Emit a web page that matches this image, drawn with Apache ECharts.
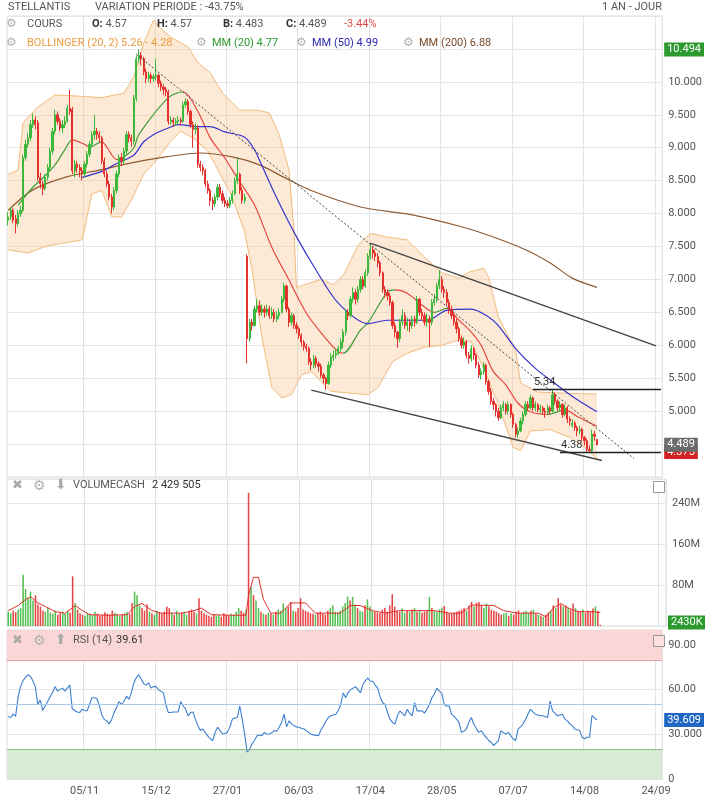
<!DOCTYPE html>
<html>
<head>
<meta charset="utf-8">
<script src="https://cdn.jsdelivr.net/npm/echarts@6/dist/echarts.min.js"></script>
<style>
html, body { margin: 0; padding: 0; background: #fff; }
#chart { width: 705px; height: 800px; }
</style>
</head>
<body>
<div id="chart"></div>
<script>
// x axis: one slot per trading day, ticks every 29 sessions
const nCats = 266;
const firstTick = 31;
const tickStep = 29;
const tickLabels = ['05/11', '15/12', '27/01', '06/03', '17/04', '28/05', '07/07', '14/08', '24/09'];

// daily candles [open, close, low, high]
const ohlc = [
  [7.90,7.95,7.82,8.02],[7.95,8.05,7.90,8.10],[8.05,7.90,7.85,8.08],[7.92,7.85,7.70,7.98],[7.85,8.00,7.80,8.05],
  [8.00,8.05,7.95,8.12],[8.05,8.85,8.02,8.90],[8.85,9.05,8.80,9.12],[9.05,9.15,9.00,9.22],[9.15,9.35,9.10,9.42],
  [9.35,9.42,9.30,9.52],[9.42,9.35,9.28,9.48],[9.38,8.55,8.50,9.42],[8.55,8.45,8.38,8.62],[8.45,8.38,8.28,8.50],
  [8.38,8.55,8.35,8.60],[8.55,8.70,8.50,8.75],[8.70,8.95,8.65,9.00],[8.95,9.25,8.90,9.30],[9.25,9.50,9.20,9.58],
  [9.50,9.40,9.35,9.55],[9.40,9.30,9.25,9.45],[9.30,9.35,9.22,9.42],[9.35,9.40,9.30,9.48],[9.40,9.60,9.38,9.65],
  [9.60,9.55,9.50,9.88],[9.58,8.65,8.60,9.62],[8.65,8.75,8.55,8.82],[8.75,8.70,8.62,8.80],[8.70,8.65,8.55,8.75],
  [8.65,8.60,8.50,8.70],[8.60,8.75,8.55,8.80],[8.75,8.90,8.70,8.95],[8.90,9.05,8.85,9.10],[9.05,9.20,9.00,9.25],
  [9.20,9.25,9.12,9.50],[9.25,9.20,9.12,9.30],[9.20,9.15,9.08,9.25],[9.15,8.80,8.75,9.18],[8.80,8.60,8.55,8.85],
  [8.60,8.45,8.40,8.65],[8.45,8.25,8.20,8.50],[8.25,8.10,8.00,8.30],[8.10,8.35,8.05,8.40],[8.35,8.60,8.30,8.65],
  [8.60,8.85,8.55,8.90],[8.85,8.80,8.72,8.92],[8.80,8.95,8.75,9.00],[8.95,9.20,8.90,9.25],[9.20,9.15,9.08,9.25],
  [9.15,9.10,9.02,9.20],[9.10,9.75,9.05,9.80],[9.75,10.35,9.70,10.40],[10.35,10.40,10.28,10.494],[10.40,10.35,10.25,10.45],
  [10.35,10.15,10.10,10.38],[10.15,10.05,9.98,10.20],[10.05,10.10,10.00,10.15],[10.10,10.05,9.98,10.14],[10.05,10.08,10.00,10.12],
  [10.08,10.10,10.02,10.35],[10.10,9.98,9.92,10.12],[9.98,9.92,9.86,10.02],[9.92,9.88,9.80,9.96],[9.88,9.85,9.78,9.92],
  [9.85,9.40,9.35,9.88],[9.40,9.42,9.35,9.48],[9.42,9.38,9.32,9.46],[9.38,9.40,9.33,9.45],[9.40,9.42,9.35,9.48],
  [9.42,9.40,9.34,9.46],[9.40,9.65,9.38,9.70],[9.65,9.70,9.60,9.75],[9.70,9.55,9.50,9.74],[9.55,9.35,9.30,9.58],
  [9.35,9.28,9.00,9.40],[9.28,9.30,9.20,9.38],[9.30,8.75,8.70,9.34],[8.75,8.70,8.64,8.80],[8.70,8.65,8.58,8.75],
  [8.65,8.45,8.40,8.68],[8.45,8.35,8.30,8.50],[8.35,8.20,8.12,8.38],[8.20,8.15,8.05,8.25],[8.15,8.25,8.10,8.30],
  [8.25,8.40,8.20,8.45],[8.40,8.30,8.25,8.45],[8.30,8.20,8.15,8.35],[8.20,8.15,8.10,8.25],[8.15,8.12,8.08,8.20],
  [8.12,8.20,8.08,8.25],[8.20,8.30,8.15,8.35],[8.30,8.50,8.28,8.55],[8.50,8.60,8.45,8.85],[8.60,8.35,8.30,8.62],
  [8.35,8.20,8.15,8.40],[8.20,8.25,8.15,8.30],[7.35,6.10,5.73,7.38],[6.10,6.35,6.05,6.40],[6.35,6.30,6.22,6.40],
  [6.30,6.55,6.28,6.60],[6.55,6.60,6.50,6.70],[6.60,6.50,6.45,6.68],[6.50,6.55,6.45,6.62],[6.55,6.50,6.42,6.60],
  [6.50,6.55,6.45,6.62],[6.55,6.45,6.40,6.60],[6.45,6.50,6.40,6.58],[6.50,6.40,6.35,6.55],[6.40,6.45,6.35,6.52],
  [6.45,6.50,6.40,6.56],[6.50,6.70,6.48,6.75],[6.70,6.90,6.65,6.95],[6.90,6.55,6.50,6.92],[6.55,6.35,6.28,6.58],
  [6.35,6.45,6.30,6.50],[6.45,6.30,6.25,6.48],[6.30,6.25,6.18,6.35],[6.25,6.15,6.10,6.28],[6.15,6.05,5.98,6.18],
  [6.05,5.98,5.92,6.08],[5.98,5.95,5.90,6.02],[5.95,5.75,5.70,5.98],[5.75,5.70,5.62,5.80],[5.70,5.80,5.65,5.85],
  [5.80,5.72,5.66,5.84],[5.72,5.68,5.60,5.76],[5.68,5.55,5.50,5.72],[5.55,5.50,5.42,5.58],[5.50,5.42,5.32,5.52],
  [5.42,5.70,5.40,5.75],[5.70,5.82,5.65,5.88],[5.82,5.85,5.76,5.92],[5.85,5.88,5.80,5.95],[5.88,5.95,5.85,6.00],
  [5.95,6.05,5.90,6.10],[6.05,6.20,5.95,6.25],[6.20,6.50,6.15,6.55],[6.50,6.45,6.38,6.55],[6.45,6.70,6.42,6.75],
  [6.70,6.80,6.65,6.88],[6.80,6.70,6.62,6.85],[6.70,6.85,6.65,6.90],[6.85,7.00,6.80,7.05],[7.00,6.90,6.85,7.05],
  [6.90,7.10,6.88,7.15],[7.10,7.35,7.05,7.40],[7.35,7.45,7.30,7.55],[7.45,7.40,7.32,7.50],[7.40,7.35,7.28,7.45],
  [7.35,7.25,7.18,7.40],[7.25,7.10,7.05,7.28],[7.10,6.85,6.80,7.12],[6.85,6.80,6.72,6.90],[6.80,6.75,6.68,6.85],
  [6.75,6.65,6.60,6.80],[6.65,6.30,6.25,6.68],[6.30,6.20,6.12,6.35],[6.20,6.10,5.96,6.22],[6.10,6.35,6.05,6.40],
  [6.35,6.45,6.30,6.55],[6.45,6.30,6.25,6.50],[6.30,6.35,6.22,6.42],[6.35,6.30,6.20,6.40],[6.30,6.40,6.25,6.45],
  [6.40,6.35,6.28,6.45],[6.35,6.70,6.32,6.75],[6.70,6.50,6.45,6.72],[6.50,6.45,6.38,6.55],[6.45,6.35,6.30,6.50],
  [6.35,6.40,6.28,6.48],[6.40,6.35,5.98,6.45],[6.35,6.65,6.30,6.70],[6.65,6.70,6.60,6.78],[6.70,6.90,6.65,6.95],
  [6.90,7.00,6.85,7.14],[7.00,6.85,6.80,7.05],[6.85,6.80,6.72,6.90],[6.80,6.65,6.60,6.85],[6.65,6.55,6.48,6.70],
  [6.55,6.45,6.40,6.60],[6.45,6.35,6.30,6.50],[6.35,6.25,6.18,6.40],[6.25,6.10,6.05,6.28],[6.10,6.00,5.95,6.15],
  [6.00,6.05,5.95,6.12],[6.05,5.85,5.80,6.08],[5.85,5.80,5.72,5.90],[5.80,5.95,5.75,6.00],[5.95,5.85,5.78,5.98],
  [5.85,5.70,5.65,5.88],[5.70,5.55,5.50,5.75],[5.55,5.60,5.48,5.65],[5.60,5.70,5.55,5.75],[5.70,5.45,5.40,5.72],
  [5.45,5.30,5.25,5.48],[5.30,5.15,5.10,5.35],[5.15,5.10,5.02,5.20],[5.10,5.00,4.92,5.12],[5.00,4.90,4.85,5.05],
  [4.90,5.05,4.88,5.10],[5.05,5.10,5.00,5.15],[5.10,5.00,4.95,5.12],[5.00,5.10,4.95,5.15],[5.10,4.95,4.90,5.12],
  [4.95,4.80,4.75,4.98],[4.80,4.65,4.60,4.82],[4.65,4.70,4.60,4.75],[4.70,4.85,4.68,4.90],[4.85,4.95,4.80,5.00],
  [4.95,5.10,4.92,5.15],[5.10,5.05,5.00,5.15],[5.05,5.20,5.02,5.25],[5.20,5.05,5.00,5.22],[5.05,5.10,5.00,5.15],
  [5.10,5.02,4.98,5.12],[5.02,5.05,4.96,5.10],[5.05,5.00,4.94,5.08],[5.00,4.98,4.90,5.05],[4.98,5.05,4.95,5.10],
  [5.05,5.00,4.95,5.08],[5.00,5.25,4.98,5.34],[5.25,5.15,5.10,5.28],[5.15,5.05,5.00,5.18],[5.05,5.10,5.00,5.15],
  [5.10,4.95,4.90,5.12],[4.95,5.05,4.92,5.10],[5.05,4.88,4.82,5.08],[4.88,4.85,4.78,4.92],[4.78,4.82,4.75,4.88],
  [4.82,4.75,4.70,4.85],[4.75,4.70,4.62,4.78],[4.70,4.72,4.65,4.78],[4.72,4.60,4.55,4.75],[4.60,4.55,4.48,4.62],
  [4.55,4.42,4.375,4.58],[4.42,4.40,4.38,4.48],[4.40,4.65,4.38,4.72],[4.65,4.62,4.55,4.70],[4.57,4.489,4.483,4.57]
];

// daily volume, millions
const volumes = [
  28,25,30,27,32,35,100,72,55,67, 50,60,42,38,30,28,35,26,24,30,
  22,25,28,24,30,26,97,45,32,25, 22,20,25,24,21,28,24,20,22,27,
  24,22,30,26,23,20,22,25,28,24, 45,67,60,40,35,30,42,28,25,22,
  30,26,24,28,38,35,26,22,30,24, 26,28,22,30,32,28,24,54,30,25,
  22,20,18,24,20,22,18,25,22,20, 24,22,28,35,30,26,32,260,77,60,
  50,35,28,24,22,26,24,22,28,32, 30,44,35,38,47,30,28,35,54,32,
  30,28,25,24,22,26,28,24,22,30, 35,40,28,26,30,38,45,57,50,57,
  42,35,30,28,40,52,38,30,28,26, 25,32,35,28,40,62,38,30,28,34,
  26,30,28,32,35,28,30,26,28,30, 57,35,30,28,32,36,39,28,25,24,
  26,28,30,32,35,30,40,47,38,45, 47,40,35,44,38,32,30,28,25,22,
  24,26,20,25,22,28,30,24,28,30, 26,30,32,24,22,20,18,22,26,30,
  40,35,54,42,38,40,36,32,44,35, 30,28,32,26,30,28,34,38,30,2.43
];

// RSI (14)
const rsi = [
  42,41.3,43.5,42,55,62,66,68,70,69, 66,62,50,53,46,49,52,55,58,62,
  59,60,61,59,61,63,47,46,45,44.6, 46.8,46,45.7,50,54.5,54.5,54,49,43,40,
  39,37,40,44.6,48,52,50,52,55.6,53.4, 58,64.5,68,70,67,64,63,64.5,61,62,
  62,59.9,59,57.8,50,44.6,44.6,45,45,45, 52,49,47,42.4,44.6,45,40,35.8,32.5,33.6,
  31,29,27,25.8,31.3,34.7,32.5,30.2,30.5,31.3, 35,40.2,41,41.3,49,40,30,18.1,20,23.6,
  26,29.1,29.5,29.1,31.3,30,30.2,31,32.5,32, 34.7,38,43.5,35,39,37,35.8,35,34.7,34,
  33.6,32.5,31.3,30,29.6,29.3,29.1,33,35.8,39, 41.3,42.4,43,43.5,46,50,57.8,54.5,58,59.9,
  61,62,60,57.8,63.4,66,67.8,65.6,65.6,63, 61,55,51.2,50,44.6,40,38,36.9,42.4,45.7,
  44,42.4,46.8,44,42.4,51.2,45.7,45.7,45.7,44.2, 47,50,54.5,57,61,59,57.8,50,49,49,
  43.5,42,40.2,38,31.3,32,33.6,38,41.3,36.9, 34,31.3,32.5,30,28,26,24.7,22.5,24,25.8,
  32.5,31,30.2,31.3,29.1,27,25.8,33.6,35,36.9, 40,43.5,46.8,45,43.5,43,42.4,42.4,42,41.3,
  52.3,45.7,44,42.4,43,43.5,40.2,39,37,35.8, 33.6,33,32.5,28,27,28,28,42.5,41,39.61
];

// indicator lines, [session, value]
const mm20 = [[4,8.13],[10,8.4],[14,8.54],[19,8.74],[23,8.97],[26,9.12],[31,9.05],[33,9.01],[38,9.09],[40,9.01],
  [44,8.82],[47,8.86],[51,9.0],[53,9.2],[65,9.76],[71,9.85],[77,9.55],[82,9.15],[88,8.84],[93,8.54],[100,8.13],
  [107,7.49],[114,6.99],[121,6.49],[127,6.19],[134,5.9],[136,5.88],[143,6.23],[146,6.34],[154,6.81],[157,6.84],
  [162,6.79],[169,6.58],[173,6.5],[178,6.56],[183,6.38],[188,6.2],[192,6.0],[197,5.6],[202,5.4],[207,5.12],
  [212,4.99],[219,4.95],[226,5.02],[231,4.92],[239,4.77]];
const mm50 = [[30,8.55],[38,8.64],[43,8.74],[51,8.89],[55,9.09],[60,9.22],[65,9.3],[69,9.35],[77,9.32],[82,9.32],
  [88,9.24],[96,9.16],[100,8.97],[102,8.81],[110,8.16],[117,7.65],[125,7.14],[134,6.64],[146,6.33],[154,6.38],
  [170,6.38],[178,6.53],[188,6.55],[195,6.43],[199,6.3],[206,5.95],[214,5.65],[222,5.42],[230,5.2],[239,4.99]];
const mm200 = [[0,8.05],[10,8.36],[24,8.56],[37,8.66],[50,8.77],[64,8.86],[78,8.92],[91,8.86],[102,8.74],[112,8.55],
  [123,8.35],[143,8.1],[164,7.98],[184,7.8],[195,7.67],[210,7.45],[220,7.25],[229,7.02],[239,6.88]];
const bbUpper = [[0,8.6],[4,8.66],[6,9.38],[12,9.62],[19,9.8],[30,9.78],[38,9.76],[47,9.83],[51,10.08],[55,10.59],
  [59,10.94],[61,10.84],[66,10.68],[73,10.53],[77,10.29],[82,10.14],[87,9.83],[94,9.57],[101,9.57],[106,9.53],
  [110,9.2],[114,8.66],[116,7.75],[117,6.88],[127,7.0],[132,6.92],[136,7.06],[142,7.52],[147,7.7],[153,7.65],
  [162,7.6],[169,7.34],[176,7.1],[183,7.02],[187,7.11],[193,7.17],[195,7.04],[199,6.43],[206,5.93],[208,5.43],
  [215,5.29],[228,5.27],[239,5.26]];
const bbLower = [[0,7.45],[8,7.4],[15,7.5],[22,7.55],[30,7.6],[34,8.3],[38,8.35],[42,7.95],[46,7.95],[50,8.2],
  [55,8.6],[60,8.8],[66,9.1],[70,9.25],[75,9.15],[81,8.95],[86,8.6],[91,8.25],[96,7.72],[99,7.14],[103,6.12],
  [107,5.36],[111,5.2],[115,5.25],[119,5.55],[123,5.6],[127,5.45],[131,5.3],[137,5.28],[146,5.25],[150,5.35],
  [156,5.75],[162,5.88],[169,5.97],[176,6.0],[183,6.08],[188,6.05],[193,5.65],[199,5.1],[205,4.45],[208,4.4],
  [212,4.7],[220,4.72],[228,4.6],[234,4.45],[239,4.28]];
const volMa = [[0,30],[4,40],[7,52],[9,57],[12,45],[15,38],[19,28],[23,25],[27,40],[30,30],[33,22],[40,21],[48,22],
  [51,38],[54,44],[58,30],[62,25],[70,25],[75,30],[78,35],[82,22],[90,21],[96,21],[97,60],[98,77],[99,95],[101,95],
  [103,52],[106,25],[110,25],[114,45],[120,45],[124,25],[134,25],[138,40],[142,40],[147,30],[152,25],[158,30],
  [172,30],[178,25],[183,25],[187,41],[196,40],[200,30],[206,25],[214,25],[217,18],[220,35],[223,44],[226,35],
  [230,28],[236,28],[239,26]];

// drawn lines: [from session, from value, to session, to value]
const trendDotted = [52, 10.42, 254, 4.28];
const channelTop = [147, 7.55, 263, 5.99];
const channelBottom = [123, 5.32, 241, 4.25];
const resistance = [213, 5.34, 265, 5.34];
const support = [224, 4.38, 265, 4.38];

const lastClose = 4.489, periodHigh = 10.494, periodLow = 4.375;
const lastVolume = '2430K', lastRsi = 39.609;

const UP = '#3cb83c', DOWN = '#e3312d';
const cats = [];
for (let i = 0; i < nCats; i++) cats.push(String(i));

function isTick(i) { return i >= firstTick && (i - firstTick) % tickStep === 0; }
function tickText(i) { return isTick(i) ? tickLabels[(i - firstTick) / tickStep] || '' : ''; }

// colour the MM20 green where it rises, red where it falls
const mm20Pieces = [];
for (let k = 0; k < mm20.length - 1; k++) {
  mm20Pieces.push({
    gte: mm20[k][0], lt: mm20[k + 1][0],
    color: mm20[k + 1][1] >= mm20[k][1] ? '#3a9d3a' : '#e5463f'
  });
}
mm20Pieces.push({ gte: mm20[mm20.length - 1][0], color: '#e5463f' });

function seg(l, style, label) {
  return [
    { coord: [l[0], l[1]], lineStyle: style, label: label || { show: false } },
    { coord: [l[2], l[3]] }
  ];
}
function tag(v, text, bg) {
  return {
    yAxis: v, lineStyle: { color: 'rgba(0,0,0,0)', width: 1 },
    label: { show: true, position: 'end', formatter: text, color: '#fff', backgroundColor: bg,
      padding: [2, 3, 1, 3], fontSize: 11, distance: 2, fontFamily: 'Roboto' }
  };
}

const xBase = {
  type: 'category', data: cats, boundaryGap: true,
  axisLine: { show: false }, axisTick: { show: false },
  axisLabel: { show: false },
  splitLine: { show: true, interval: (i) => isTick(i), lineStyle: { color: '#e3e3e3' } }
};
const labelStyle = { color: '#555', fontSize: 11, fontFamily: 'Roboto' };
const gear = (x, y, size) => ({ type: 'text', left: x, top: y, z: 100,
  style: { text: '⚙', fill: '#b0b0b0', font: size + 'px "DejaVu Sans"' } });
const txt = (x, y, s, color, extra) => Object.assign({ type: 'text', left: x, top: y, z: 100,
  style: { text: s, fill: color, font: '11px Roboto' } }, extra || {});
const bold = { b: { fontWeight: 'bold', fill: '#333', fontSize: 11, fontFamily: 'Roboto' } };

const chart = echarts.init(document.getElementById('chart'));
chart.setOption({
  animation: false,
  backgroundColor: '#fff',
  textStyle: { fontFamily: 'Roboto' },
  grid: [
    { left: 7, right: 39, top: 16, height: 461, show: true, borderColor: '#dcdcdc' },
    { left: 7, right: 39, top: 479, height: 147, show: true, borderColor: '#dcdcdc' },
    { left: 7, right: 39, top: 630, height: 149, show: true, borderColor: '#dcdcdc' }
  ],
  xAxis: [
    Object.assign({}, xBase, { gridIndex: 0 }),
    Object.assign({}, xBase, { gridIndex: 1 }),
    Object.assign({}, xBase, { gridIndex: 2,
      axisLabel: Object.assign({ show: true, margin: 7, interval: (i) => isTick(i),
        formatter: (v, i) => tickText(i) }, labelStyle) })
  ],
  yAxis: [
    { gridIndex: 0, position: 'right', min: 4, max: 11, interval: 0.5,
      axisLine: { show: false }, axisTick: { show: false },
      axisLabel: Object.assign({ margin: 6, formatter: (v) => (v >= 5 && v <= 10) ? v.toFixed(3) : '' }, labelStyle),
      splitLine: { lineStyle: { color: '#e6e6e6' } } },
    { gridIndex: 1, position: 'right', min: 0, max: 287e6, interval: 80e6,
      axisLine: { show: false }, axisTick: { show: false },
      axisLabel: Object.assign({ margin: 6, formatter: (v) => (v > 0 && v % 80e6 === 0) ? (v / 1e6) + 'M' : '' }, labelStyle),
      splitLine: { lineStyle: { color: '#e6e6e6' } } },
    { gridIndex: 2, position: 'right', min: 0, max: 100, interval: 30,
      axisLine: { show: false }, axisTick: { show: false },
      axisLabel: Object.assign({ margin: 6, formatter: (v) => ({ 0: '0', 30: '30.000', 60: '60.00', 90: '90.00' })[v] || '' }, labelStyle),
      splitLine: { lineStyle: { color: '#e6e6e6' } } }
  ],
  visualMap: [{
    show: false, type: 'piecewise', seriesIndex: 4, dimension: 0,
    pieces: mm20Pieces
  }],
  series: [
    { // Bollinger fill
      type: 'custom', xAxisIndex: 0, yAxisIndex: 0, z: 1, silent: true,
      data: [[0, 0]],
      renderItem: (params, api) => {
        const pts = bbUpper.map((p) => api.coord(p))
          .concat(bbLower.slice().reverse().map((p) => api.coord(p)));
        return { type: 'polygon', shape: { points: pts },
          style: { fill: 'rgba(250,196,140,0.36)', stroke: null } };
      }
    },
    { type: 'line', name: 'bbUp', data: bbUpper, xAxisIndex: 0, yAxisIndex: 0, symbol: 'none', z: 2,
      lineStyle: { color: '#f2bb7c', width: 1 } },
    { type: 'line', name: 'bbLow', data: bbLower, xAxisIndex: 0, yAxisIndex: 0, symbol: 'none', z: 2,
      lineStyle: { color: '#f2bb7c', width: 1 } },
    { type: 'line', name: 'mm200', data: mm200, xAxisIndex: 0, yAxisIndex: 0, symbol: 'none', smooth: 0.3, z: 3,
      lineStyle: { color: '#8f5b33', width: 1.2 } },
    { type: 'line', name: 'mm20', data: mm20, xAxisIndex: 0, yAxisIndex: 0, symbol: 'none', smooth: 0.3, z: 3,
      lineStyle: { width: 1.2 } },
    { type: 'line', name: 'mm50', data: mm50, xAxisIndex: 0, yAxisIndex: 0, symbol: 'none', smooth: 0.3, z: 3,
      lineStyle: { color: '#3434cc', width: 1.2 } },
    {
      type: 'candlestick', name: 'cours', data: ohlc, xAxisIndex: 0, yAxisIndex: 0, z: 4,
      barWidth: '70%', clip: false,
      itemStyle: { color: UP, color0: DOWN, borderColor: UP, borderColor0: DOWN, borderWidth: 1 },
      markLine: {
        silent: true, symbol: 'none', animation: false,
        data: [
          seg(trendDotted, { color: '#444', type: [2, 2], width: 1 }),
          seg(channelTop, { color: '#444', type: 'solid', width: 1.4 }),
          seg(channelBottom, { color: '#444', type: 'solid', width: 1.4 }),
          seg(resistance, { color: '#222', type: 'solid', width: 1.3 },
            { show: true, position: 'insideStartTop', formatter: '5.34', color: '#333', fontSize: 11, distance: 1 }),
          seg(support, { color: '#222', type: 'solid', width: 1.3 },
            { show: true, position: 'insideStartTop', formatter: '4.38', color: '#333', fontSize: 11, distance: 1 }),
          tag(periodHigh, periodHigh.toFixed(3), '#2c9a2f'),
          tag(periodLow, periodLow.toFixed(3), '#d32222'),
          tag(lastClose, lastClose.toFixed(3), '#6b6b6b')
        ]
      }
    },
    {
      type: 'bar', name: 'volume', xAxisIndex: 1, yAxisIndex: 1, barWidth: '62%',
      data: volumes.map((v, i) => ({ value: v * 1e6,
        itemStyle: { color: ohlc[i][1] >= ohlc[i][0] ? '#52c052' : '#e64545' } })),
      markLine: { silent: true, symbol: 'none', animation: false,
        data: [Object.assign(tag(0, lastVolume, '#2c9a2f'), { yAxis: 7e6 })] }
    },
    { type: 'line', name: 'volMa', data: volMa.map((p) => [p[0], p[1] * 1e6]), xAxisIndex: 1, yAxisIndex: 1,
      symbol: 'none', lineStyle: { color: '#e2302b', width: 1 } },
    {
      type: 'line', name: 'rsi', data: rsi, xAxisIndex: 2, yAxisIndex: 2, symbol: 'none',
      lineStyle: { color: '#3b7fd0', width: 1.1 }, z: 4,
      markArea: { silent: true, data: [
        [{ yAxis: 80, itemStyle: { color: '#fbd6d6' } }, { yAxis: 100 }],
        [{ yAxis: 0, itemStyle: { color: '#d9ebd5' } }, { yAxis: 20 }]
      ] },
      markLine: { silent: true, symbol: 'none', animation: false, data: [
        { yAxis: 50, lineStyle: { color: '#a9c9ec', type: 'solid', width: 1 }, label: { show: false } },
        { yAxis: 80, lineStyle: { color: '#e39c9c', type: 'solid', width: 1 }, label: { show: false } },
        { yAxis: 20, lineStyle: { color: '#8cbf86', type: 'solid', width: 1 }, label: { show: false } },
        tag(lastRsi, lastRsi.toFixed(3), '#1f67c2')
      ] }
    }
  ],
  graphic: [
    txt(8, 2, 'STELLANTIS', '#555'),
    txt(95, 2, 'VARIATION PERIODE : -43.75%', '#555'),
    txt(602, 2, '1 AN - JOUR', '#555'),
    gear(6, 18, 12),
    txt(27, 19, 'COURS', '#555'),
    { type: 'text', left: 92, top: 19, z: 100, style: { text: '{b|O:} 4.57', fill: '#555', font: '11px Roboto', rich: bold } },
    { type: 'text', left: 157, top: 19, z: 100, style: { text: '{b|H:} 4.57', fill: '#555', font: '11px Roboto', rich: bold } },
    { type: 'text', left: 223, top: 19, z: 100, style: { text: '{b|B:} 4.483', fill: '#555', font: '11px Roboto', rich: bold } },
    { type: 'text', left: 286, top: 19, z: 100, style: { text: '{b|C:} 4.489', fill: '#555', font: '11px Roboto', rich: bold } },
    txt(344, 19, '-3.44%', '#e04848'),
    gear(6, 37, 12),
    txt(27, 38, 'BOLLINGER (20, 2) 5.26 - 4.28', '#eb9a3c'),
    gear(196, 37, 12),
    txt(212, 38, 'MM (20) 4.77', '#2f9a2f'),
    gear(296, 37, 12),
    txt(312, 38, 'MM (50) 4.99', '#2a2ab0'),
    gear(403, 37, 12),
    txt(419, 38, 'MM (200) 6.88', '#7a4a28'),
    // volume panel header
    { type: 'text', left: 12, top: 479, z: 100, style: { text: '✖', fill: '#aaa', font: 'bold 13px "DejaVu Sans"' } },
    gear(33, 479, 14),
    { type: 'text', left: 55, top: 478, z: 100, style: { text: '⬇', fill: '#aaa', font: '14px "DejaVu Sans"' } },
    txt(73, 480, 'VOLUMECASH', '#555'),
    txt(152, 480, '2 429 505', '#333'),
    { type: 'rect', left: 653, top: 481, z: 100, shape: { width: 11, height: 11 }, style: { fill: '#fff', stroke: '#999', lineWidth: 1 } },
    // rsi panel header
    { type: 'text', left: 12, top: 634, z: 100, style: { text: '✖', fill: '#aaa', font: 'bold 13px "DejaVu Sans"' } },
    gear(33, 634, 14),
    { type: 'text', left: 55, top: 633, z: 100, style: { text: '⬆', fill: '#aaa', font: '14px "DejaVu Sans"' } },
    txt(73, 635, 'RSI (14)', '#555'),
    txt(116, 635, '39.61', '#333'),
    { type: 'rect', left: 653, top: 635, z: 100, shape: { width: 11, height: 11 }, style: { fill: '#fde0e0', stroke: '#999', lineWidth: 1 } }
  ]
});
</script>
</body>
</html>
